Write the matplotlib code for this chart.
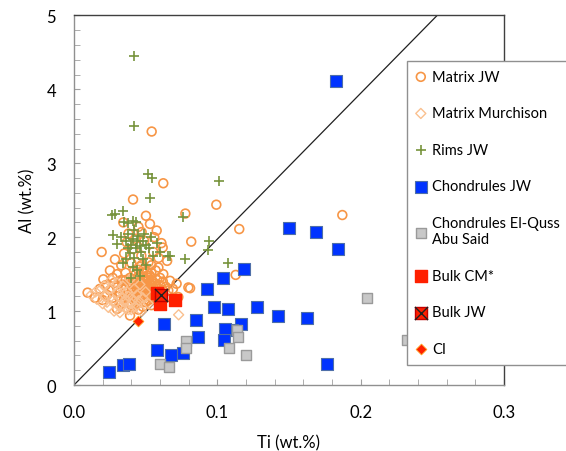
import matplotlib
matplotlib.use('Agg')
import matplotlib.pyplot as plt
from matplotlib.ticker import MultipleLocator

plt.rcParams['font.family'] = ['Lato', 'DejaVu Sans']

# Matrix JW (open orange circles)
mjw_ti = [0.0542, 0.0623, 0.0412, 0.0993, 0.0777, 0.0502, 0.1153, 0.1872, 0.0818, 0.0619,
          0.0193, 0.0344, 0.0530, 0.0577, 0.0472, 0.0450, 0.0380, 0.0560, 0.0368, 0.0414,
          0.0553, 0.0610, 0.0490, 0.0430, 0.0286, 0.0519, 0.0470, 0.0590, 0.0350, 0.0650,
          0.0400, 0.0330, 0.0589, 0.0540, 0.0460, 0.0623, 0.0251, 0.0300, 0.0360, 0.0420,
          0.0480, 0.0530, 0.0570, 0.0600, 0.0670, 0.0205, 0.0270, 0.0330, 0.0390, 0.0450,
          0.0500, 0.0550, 0.0716, 0.1128, 0.0810, 0.0798, 0.0095, 0.0147, 0.0180, 0.0220,
          0.0250, 0.0280, 0.0300, 0.0320, 0.0340, 0.0360, 0.0370, 0.0380, 0.0400, 0.0410,
          0.0420, 0.0430, 0.0440, 0.0450, 0.0460, 0.0470, 0.0480, 0.0490, 0.0500, 0.0510,
          0.0520, 0.0530, 0.0540, 0.0550, 0.0560, 0.0570, 0.0580, 0.0600, 0.0620, 0.0640,
          0.0658, 0.0690, 0.0380, 0.0400, 0.0420, 0.0440, 0.0460, 0.0480, 0.0500, 0.0520,
          0.0350, 0.0330, 0.0300, 0.0391, 0.0450, 0.0540, 0.0560, 0.0728, 0.0230, 0.0270,
          0.0310, 0.0360, 0.0410, 0.0440, 0.0520, 0.0580, 0.0620, 0.0440, 0.0470, 0.0500,
          0.0420, 0.0460, 0.0490, 0.0520, 0.0390, 0.0500, 0.0540, 0.0600, 0.0640, 0.0200,
          0.0430, 0.0450, 0.0470, 0.0490, 0.0510, 0.0530, 0.0550, 0.0480, 0.0510, 0.0540]
mjw_al = [3.43, 2.73, 2.51, 2.44, 2.32, 2.29, 2.11, 2.30, 1.94, 1.86,
          1.80, 2.20, 2.18, 2.09, 2.07, 2.14, 2.05, 2.00, 1.93, 1.84,
          1.80, 1.92, 1.95, 1.98, 1.70, 1.66, 1.75, 1.72, 1.78, 1.68,
          1.65, 1.62, 1.59, 1.62, 1.60, 1.50, 1.55, 1.50, 1.52, 1.55,
          1.52, 1.48, 1.55, 1.45, 1.41, 1.43, 1.45, 1.42, 1.45, 1.47,
          1.43, 1.40, 1.37, 1.49, 1.31, 1.32, 1.25, 1.18, 1.30, 1.35,
          1.28, 1.38, 1.32, 1.25, 1.36, 1.30, 1.22, 1.38, 1.33, 1.27,
          1.20, 1.36, 1.30, 1.24, 1.39, 1.33, 1.18, 1.27, 1.36, 1.31,
          1.22, 1.38, 1.29, 1.34, 1.25, 1.37, 1.30, 1.35, 1.28, 1.33,
          1.28, 1.30, 1.12, 1.08, 1.14, 1.10, 1.16, 1.06, 1.12, 1.15,
          1.16, 1.10, 1.03, 0.94, 1.02, 1.08, 1.18, 1.19, 1.22, 1.18,
          1.20, 1.42, 1.41, 1.44, 1.45, 1.42, 1.40, 1.20, 1.23, 1.20,
          1.26, 1.29, 1.32, 1.34, 1.18, 1.40, 1.42, 1.22, 1.18, 1.15,
          1.50, 1.56, 1.62, 1.58, 1.53, 1.25, 1.20, 1.45, 1.48, 1.52]

# Matrix Murchison (open light orange diamonds)
mur_ti = [0.012, 0.016, 0.018, 0.020, 0.022, 0.024, 0.025, 0.027, 0.028, 0.030,
          0.031, 0.032, 0.033, 0.034, 0.035, 0.036, 0.037, 0.038, 0.039, 0.040,
          0.041, 0.042, 0.043, 0.044, 0.045, 0.046, 0.047, 0.048, 0.050, 0.052,
          0.030, 0.026, 0.021, 0.073, 0.029, 0.034, 0.038, 0.015, 0.023, 0.033,
          0.036, 0.040, 0.044]
mur_al = [1.22, 1.16, 1.28, 1.10, 1.20, 1.05, 1.30, 1.14, 1.00, 1.24,
          1.08, 0.98, 1.18, 1.34, 1.12, 1.04, 1.26, 1.20, 1.43, 1.10,
          1.16, 1.30, 1.06, 1.22, 1.14, 1.36, 1.00, 1.18, 1.26, 1.10,
          1.38, 1.42, 1.34, 0.95, 1.12, 1.25, 1.02, 1.26, 1.12, 1.06,
          1.15, 1.02, 1.08]

# Rims JW (green plus)
rim_ti = [0.0421, 0.0421, 0.0518, 0.0542, 0.1010, 0.0532, 0.0763, 0.0263, 0.0286, 0.0340,
          0.0350, 0.0380, 0.0430, 0.0940, 0.0933, 0.0774, 0.1077, 0.0670, 0.0274, 0.0298,
          0.0654, 0.0600, 0.0414, 0.033, 0.036, 0.038, 0.040, 0.041, 0.042, 0.043,
          0.044, 0.045, 0.046, 0.047, 0.048, 0.049, 0.050, 0.052, 0.054, 0.055,
          0.039, 0.036, 0.034, 0.041, 0.044, 0.048, 0.050, 0.042, 0.038, 0.046,
          0.040, 0.058]
rim_al = [4.45, 3.50, 2.86, 2.80, 2.76, 2.53, 2.27, 2.30, 2.31, 2.36,
          2.20, 2.19, 2.20, 1.95, 1.83, 1.70, 1.65, 1.75, 2.03, 1.91,
          1.74, 1.80, 2.22, 2.00, 1.95, 2.05, 1.90, 1.98, 2.10, 1.85,
          1.95, 2.02, 1.88, 1.80, 1.95, 2.05, 1.90, 1.85, 2.00, 1.75,
          1.78, 1.70, 1.65, 1.60, 1.55, 1.70, 1.62, 1.72, 1.85, 1.48,
          1.45, 1.92]

# Chondrules JW (blue squares)
chjw_ti = [0.183, 0.150, 0.169, 0.184, 0.1423, 0.1626, 0.1765, 0.1188, 0.104, 0.0928,
           0.0975, 0.1072, 0.1274, 0.0853, 0.0628, 0.1163, 0.110, 0.1056, 0.0865, 0.1049,
           0.0579, 0.0679, 0.0763, 0.0246, 0.0344, 0.0386]
chjw_al = [4.12, 2.13, 2.07, 1.84, 0.94, 0.91, 0.28, 1.57, 1.45, 1.30,
           1.05, 1.03, 1.05, 0.88, 0.83, 0.82, 0.74, 0.76, 0.65, 0.61,
           0.47, 0.41, 0.43, 0.17, 0.27, 0.28]

# Chondrules El-Quss Abu Said (grey squares)
eq_ti = [0.114, 0.1142, 0.1084, 0.1202, 0.0784, 0.0784, 0.060, 0.0663, 0.2042, 0.232]
eq_al = [0.75, 0.65, 0.50, 0.41, 0.60, 0.50, 0.29, 0.24, 1.18, 0.61]

# Bulk CM*, Bulk JW, CI
cm_ti = [0.058, 0.060, 0.0705]
cm_al = [1.24, 1.10, 1.15]
bjw_ti = [0.0605]
bjw_al = [1.22]
ci_ti = [0.0444]
ci_al = [0.87]

# CI Al/Ti reference line
line_ti = [0.0, 0.2533]
line_al = [0.0, 5.0]

fig = plt.figure(figsize=(5.66, 4.52), dpi=100)
ax = fig.add_axes([0.1307, 0.146, 0.7598, 0.8175])

ax.plot(line_ti, line_al, color='#202020', lw=0.9, zorder=1)

h1 = ax.scatter(mjw_ti, mjw_al, s=40, facecolors='none', edgecolors='#F79646', linewidths=1.2, zorder=2)
h2 = ax.scatter(mur_ti, mur_al, s=26, marker='D', facecolors='none', edgecolors='#FAC08F', linewidths=1.0, zorder=3)
h3 = ax.scatter(rim_ti, rim_al, s=50, marker='+', color='#77933C', linewidths=1.2, zorder=4)
h4 = ax.scatter(chjw_ti, chjw_al, s=75, marker='s', facecolors='#0033FF', edgecolors='#4F6FA8', linewidths=0.8, zorder=5)
h5 = ax.scatter(eq_ti, eq_al, s=55, marker='s', facecolors='#C8C8C8', edgecolors='#9A9A9A', linewidths=1.0, zorder=6)
h6 = ax.scatter(cm_ti, cm_al, s=70, marker='s', facecolors='#FF2000', edgecolors='#FF2000', zorder=7)
h7a = ax.scatter(bjw_ti, bjw_al, s=85, marker='s', facecolors='#FF2000', edgecolors='#C00000', zorder=8)
h7b = ax.scatter(bjw_ti, bjw_al, s=90, marker='x', color='#202020', linewidths=1.0, zorder=9)
h8 = ax.scatter(ci_ti, ci_al, s=30, marker='D', facecolors='#FF2000', edgecolors='#FFA020', linewidths=0.6, zorder=10)

ax.set_xlim(0, 0.3)
ax.set_ylim(0, 5)
ax.xaxis.set_major_locator(MultipleLocator(0.1))
ax.xaxis.set_minor_locator(MultipleLocator(0.02))
ax.yaxis.set_major_locator(MultipleLocator(1))
ax.yaxis.set_minor_locator(MultipleLocator(0.2))
ax.xaxis.set_major_formatter(plt.FuncFormatter(lambda v, p: '%.1f' % v))
ax.tick_params(which='both', direction='in', length=4, color='#a0a0a0', labelsize=12)
ax.tick_params(axis='x', which='major', pad=14)
ax.tick_params(axis='y', which='major', pad=13)
ax.spines['left'].set_color('#909090')
ax.spines['bottom'].set_color('#909090')
ax.spines['top'].set_color('#404040')
ax.spines['right'].set_color('#404040')
for sp in ax.spines.values():
    sp.set_linewidth(1.0)

ax.set_xlabel('Ti (wt.%)', fontsize=12, labelpad=10)
ax.set_ylabel('Al (wt.%)', fontsize=12, labelpad=8)

leg = fig.legend([h1, h2, h3, h4, h5, h6, (h7a, h7b), h8],
                 ['Matrix JW', 'Matrix Murchison', 'Rims JW', 'Chondrules JW',
                  'Chondrules El-Quss\nAbu Said', 'Bulk CM*', 'Bulk JW', 'CI'],
                 loc='upper left', bbox_to_anchor=(0.719, 0.863), fontsize=10.5,
                 frameon=True, fancybox=False, edgecolor='#909090', framealpha=1,
                 handlelength=0.7, handletextpad=0.45, labelspacing=1.55,
                 borderpad=0.6, borderaxespad=0, scatterpoints=1)
leg.get_frame().set_linewidth(1.0)

fig.savefig('out.png', dpi=100)
